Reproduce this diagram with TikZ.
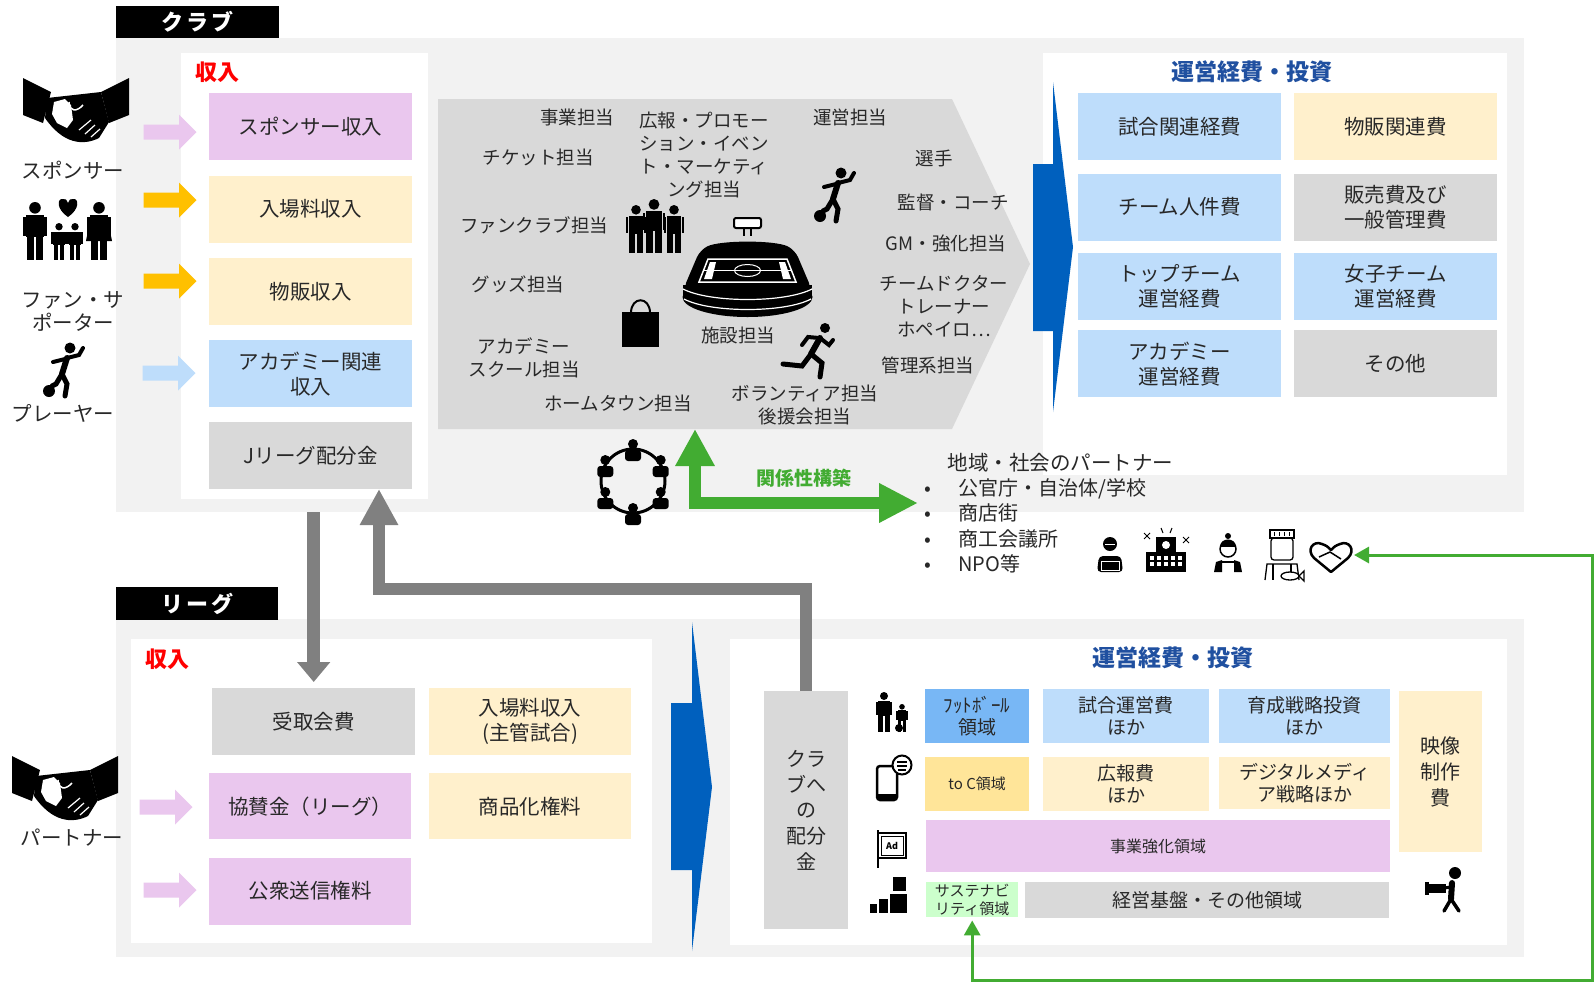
\documentclass[tikz,border=0pt]{standalone}
\usepackage{fontspec}
\setmainfont{Noto Sans CJK JP}
\usepackage{tikz}
\usetikzlibrary{positioning,arrows.meta}

\definecolor{bggrey}{RGB}{242,242,242}
\definecolor{boxgrey}{RGB}{217,217,217}
\definecolor{boxpink}{RGB}{234,199,238}
\definecolor{boxyellow}{RGB}{255,240,204}
\definecolor{boxblue}{RGB}{190,221,251}
\definecolor{deepyellow}{RGB}{255,229,153}
\definecolor{footblue}{RGB}{120,183,245}
\definecolor{sustgreen}{RGB}{204,255,204}
\definecolor{amber}{RGB}{255,192,0}
\definecolor{flowblue}{RGB}{0,96,190}
\definecolor{titleblue}{RGB}{32,80,160}
\definecolor{relgreen}{RGB}{66,172,50}
\definecolor{arrowgrey}{RGB}{128,128,128}
\definecolor{txt}{RGB}{40,40,40}

\tikzstyle{panel} = [rectangle, inner sep=0pt, anchor=north west]
\tikzstyle{tag} = [panel, fill=black, text=white, font=\fontsize{22}{26}\selectfont\bfseries]
\tikzstyle{entry} = [panel, align=center, text=txt, minimum width=203, minimum height=67, font=\fontsize{20.5}{25}\selectfont]
\tikzstyle{cell} = [panel, align=center, text=txt, font=\fontsize{19}{22}\selectfont]
\tikzstyle{role} = [align=center, text=txt, font=\fontsize{18.5}{23}\selectfont]
\tikzstyle{who} = [align=center, text=txt, font=\fontsize{20.5}{23}\selectfont]
\tikzstyle{heading} = [text=titleblue, font=\fontsize{23}{27}\selectfont\bfseries]
\tikzstyle{income} = [anchor=west, text=red, font=\fontsize{22}{26}\selectfont\bfseries]
\tikzstyle{connect} = [line width=13pt, draw=arrowgrey, -{Triangle[width=32pt,length=20pt]}]
\tikzstyle{connectup} = [line width=12pt, draw=arrowgrey, line join=miter, -{Triangle[width=36pt,length=36pt]}]
\tikzstyle{relate} = [line width=12pt, draw=relgreen, line join=miter, {Triangle[width=37pt,length=37pt]}-{Triangle[width=37pt,length=39pt]}]
\tikzstyle{feedback} = [line width=3pt, draw=relgreen, {Triangle[width=16pt,length=15pt]}-{Triangle[width=16pt,length=15pt]}]

\tikzset{
  inflow/.pic={
    \fill (-26.5,-7.5) -- (9,-7.5) -- (9,-17.5) -- (26.5,0) -- (9,17.5) -- (9,7.5) -- (-26.5,7.5) -- cycle;
  },
  person/.pic={
    \fill (0,0.1) circle (0.1);
    \fill (-0.15,0.23) rectangle (0.15,0.6);
    \fill (-0.21,0.25) rectangle (-0.16,0.58);
    \fill (0.16,0.25) rectangle (0.21,0.58);
    \fill (-0.14,0.58) rectangle (-0.02,1);
    \fill (0.02,0.58) rectangle (0.14,1);
  },
  handshake/.pic={
    \fill (0,0) -- (28,14) -- (20,45) -- (0,37) -- cycle;
    \fill (106,0) -- (78,14) -- (86,45) -- (106,37) -- cycle;
    \fill (24,20) -- (78,14) -- (86,44) -- (76,60) .. controls (60,68) and (40,66) .. (22,40) -- cycle;
    \fill[white] (31,24) -- (42,21) -- (48,27) -- (50,42) -- (44,50) -- (34,45) -- (29,36) -- cycle;
    \draw[white, line width=1.5pt] (46,24) .. controls (46,34) and (54,34) .. (60,27);
    \draw[white, line width=1.2pt] (56,52) -- (68,42) (62,56) -- (72,47) (68,59) -- (77,51);
  },
  kicker/.pic={
    \fill (27,5) circle (5.5);
    \draw[line width=6pt, line cap=round] (24,15) -- (19,31);
    \draw[line width=4pt, line cap=round] (24,15) -- (36,12) -- (40,5);
    \draw[line width=4pt, line cap=round] (22,16) -- (10,19);
    \draw[line width=5pt, line cap=round] (19,31) -- (24,41) -- (22,53);
    \draw[line width=5pt, line cap=round] (19,31) -- (13,41) -- (9,43);
    \fill (6,48) circle (6);
  },
  runner/.pic={
    \fill (45,5) circle (5);
    \draw[line width=6pt, line cap=round] (40,15) -- (31,31);
    \draw[line width=4pt, line cap=round] (40,15) -- (49,22) -- (53,17);
    \draw[line width=4pt, line cap=round] (39,15) -- (28,14) -- (22,22);
    \draw[line width=5pt, line cap=round] (31,31) -- (42,40) -- (40,54);
    \draw[line width=5pt, line cap=round] (31,31) -- (22,43) -- (3,41);
  },
  member/.pic={
    \fill (0,-5) circle (5);
    \fill[rounded corners=3pt] (-8,1) rectangle (8,12);
  }
}

\begin{document}
\begin{tikzpicture}[x=1pt,y=-1pt]
\useasboundingbox (0,0) rectangle (1595,983);

% club block
\node (clubbg) [panel, fill=bggrey, minimum width=1408, minimum height=474] at (116,38) {};
\node (clubtag) [tag, minimum width=163, minimum height=32] at (116,6) {ク\hspace{3pt}ラ\hspace{3pt}ブ};
\node (clubin) [panel, fill=white, minimum width=247, minimum height=446] at (181,53) {};
\node (clubout) [panel, fill=white, minimum width=464, minimum height=422] at (1043,53) {};
\node (clubinc) [income] at (192,72) {収入};
\node (clubttl) [heading] at (1252,72) {運営経費・投資};

\node (sponsor) [entry, fill=boxpink] at (209,93) {スポンサー収入};
\node (gate) [entry, fill=boxyellow, below=15pt of sponsor] {入場料収入};
\node (goodsin) [entry, fill=boxyellow, below=15pt of gate] {物販収入};
\node (academyin) [entry, fill=boxblue, below=15pt of goodsin] {アカデミー関連\\収入};
\node (jdist) [entry, fill=boxgrey, below=14pt of academyin] {Jリーグ配分金};

\pic[fill=boxpink] at (170,132) {inflow};
\pic[fill=amber] at (170,200) {inflow};
\pic[fill=amber] at (170,281) {inflow};
\pic[fill=boxblue] at (169,373) {inflow};

\node (shiaiex) [entry, fill=boxblue] at (1078,93) {試合関連経費};
\node (buppanex) [entry, fill=boxyellow] at (1294,93) {物販関連費};
\node (team) [entry, fill=boxblue, below=13pt of shiaiex] {チーム人件費};
\node (hanbai) [entry, fill=boxgrey, below=13pt of buppanex] {販売費及び\\一般管理費};
\node (topteam) [entry, fill=boxblue, below=12pt of team] {トップチーム\\運営経費};
\node (women) [entry, fill=boxblue, below=12pt of hanbai] {女子チーム\\運営経費};
\node (academyex) [entry, fill=boxblue, below=10pt of topteam] {アカデミー\\運営経費};
\node (other) [entry, fill=boxgrey, below=10pt of women] {その他};

% club staff
\fill[boxgrey] (438,99) -- (952,99) -- (1030,264) -- (952,429) -- (438,429) -- cycle;
\coordinate (chevbot) at (695,429);
\fill[flowblue] (1033,164) -- (1053,164) -- (1053,82) -- (1073,247) -- (1053,412) -- (1053,331) -- (1033,331) -- cycle;

\node (jigyotanto) [role] at (577,117) {事業担当};
\node (promo) [role] at (704,155) {広報・プロモー\\ション・イベン\\ト・マーケティ\\ング担当};
\node (uneitanto) [role] at (850,117) {運営担当};
\node (tickettanto) [role] at (538,157) {チケット担当};
\node (senshu) [role] at (934,158) {選手};
\node (kantoku) [role] at (953,202) {監督・コーチ};
\node (fanclub) [role] at (534,225) {ファンクラブ担当};
\node (gm) [role] at (946,244) {GM・強化担当};
\node (goodstanto) [role] at (518,284) {グッズ担当};
\node (doctor) [role] at (944,306) {チームドクター\\トレーナー\\ホペイロ…};
\node (academytanto) [role] at (524,358) {アカデミー\\スクール担当};
\node (shisetsu) [role] at (738,335) {施設担当};
\node (kanri) [role] at (928,365) {管理系担当};
\node (volunteer) [role] at (805,405) {ボランティア担当\\後援会担当};
\node (hometown) [role] at (618,403) {ホームタウン担当};

% stadium
\fill[rounded corners=8pt] (683,290) -- (700,250) .. controls (720,240) and (775,240) .. (795,250) -- (812,290) -- cycle;
\fill (683,285) rectangle (812,297);
\fill (747.5,297) ellipse (65 and 20);
\draw[white, line width=1.2pt] (683,289) .. controls (710,303) and (785,303) .. (812,289);
\draw[white, line width=1.2pt] (684,299) .. controls (710,313) and (785,313) .. (811,299);
\draw[white, line width=1.5pt] (699,282) -- (708,259) -- (787,259) -- (796,282) -- cycle;
\draw[white, line width=1pt] (703.5,270.5) -- (791.5,270.5);
\draw[white, line width=1pt] (747.5,270.5) ellipse (13 and 6);
\fill[white] (704,279) -- (710,262) -- (716,262) -- (712,279) -- cycle;
\fill[white] (791,279) -- (785,262) -- (779,262) -- (783,279) -- cycle;
\draw[line width=2pt, fill=white, rounded corners=2pt] (734,218) rectangle (761,228);
\draw[line width=1.5pt] (744,229) -- (744,236) (751,229) -- (751,236);
\pic[scale=48] at (636,205) {person};
\pic[scale=54] at (654,199) {person};
\pic[scale=48] at (674,205) {person};
\fill (622,312) rectangle (659,347);
\draw[line width=2pt] (631,313) .. controls (631,296) and (650,296) .. (650,313);
\pic at (814,168) {kicker};
\pic at (780,323) {runner};

% supporters
\pic at (23,78) {handshake};
\node (sponsorlbl) [who] at (73,170) {スポンサー};
\pic[scale=58] at (35,202) {person};
\pic[scale=37] at (59,223) {person};
\pic[scale=37] at (75,223) {person};
\pic[scale=58] at (99,202) {person};
\fill (91,215) -- (107,215) -- (112,241) -- (86,241) -- cycle;
\fill (68,217) .. controls (56,209) and (57,198) .. (63,199) .. controls (66,199) .. (68,203) .. controls (70,199) .. (73,199) .. controls (79,198) and (80,209) .. (68,217);
\node (fanlbl) [who] at (73,311) {ファン・サ\\ポーター};
\pic at (43,343) {kicker};
\node (playerlbl) [who] at (63,413) {プレーヤー};

% local partners
\draw[line width=3pt] (633,481) circle (32);
\foreach \a in {30,90,150,210,270,330}
  \pic at ([shift={(\a:32)}]633,481) {member};
\draw[relate] (chevbot) |- (918,503);
\node (relation) [text=relgreen, font=\fontsize{19}{22}\selectfont\bfseries] at (804,478) {関係性構築};
\node (partnertitle) [who, anchor=west] at (944,463) {地域・社会のパートナー};
\node (partnerlist) [anchor=north west, align=left, inner sep=0pt, text=txt, font=\fontsize{20}{25.5}\selectfont] at (924,478)
  {\makebox[34pt][l]{•}公官庁・自治体/学校\\\makebox[34pt][l]{•}商店街\\\makebox[34pt][l]{•}商工会議所\\\makebox[34pt][l]{•}NPO等};

\fill (1110,544) circle (7);
\fill[rounded corners=4pt] (1097,572) -- (1099,556) -- (1121,556) -- (1123,572) -- cycle;
\draw[white, line width=1pt] (1101,561) rectangle (1119,570);
\draw[white, line width=0.8pt] (1105,544) -- (1115,544);
\fill (1156,537) rectangle (1176,572);
\fill (1146,552) rectangle (1186,572);
\fill[white] (1166,545) circle (4);
\foreach \wx in {1150,1157,1164,1171,1178} {
  \fill[white] (\wx,556) rectangle ++(4,3.5);
  \fill[white] (\wx,562) rectangle ++(4,3.5);
}
\draw[line width=1pt] (1144,533) -- (1150,539) (1144,539) -- (1150,533) (1183,537) -- (1189,543) (1183,543) -- (1189,537) (1161,528) -- (1163,533) (1172,528) -- (1170,533);
\draw[line width=1.5pt] (1228,549) circle (8);
\fill (1220,547) .. controls (1220,537) and (1236,537) .. (1236,547) -- cycle;
\fill (1228,536) circle (3);
\fill (1214,572) -- (1216,562) -- (1222,560) -- (1222,572) -- cycle;
\fill (1242,572) -- (1240,562) -- (1234,560) -- (1234,572) -- cycle;
\draw[line width=1.3pt] (1222,562) -- (1234,562);
\draw[line width=1.3pt] (1270,530) rectangle (1294,538);
\draw[line width=1pt] (1274,532) -- (1274,536) (1279,532) -- (1279,536) (1284,532) -- (1284,536) (1289,532) -- (1289,536);
\draw[line width=1.3pt, rounded corners=3pt] (1271,538) rectangle (1293,560);
\draw[line width=1.3pt] (1265,580) -- (1267,564) -- (1297,564) -- (1299,580);
\draw[line width=1.3pt] (1273,564) -- (1273,580) (1291,564) -- (1291,572);
\draw[line width=1.3pt, fill=white] (1290,576) ellipse (9 and 4);
\draw[line width=1.3pt] (1299,576) -- (1304,571) -- (1304,581) -- cycle;
\draw[line width=2.5pt, line join=round] (1331,572) -- (1314,558) .. controls (1306,550) and (1313,540) .. (1322,544) .. controls (1327,546) .. (1331,550) .. controls (1335,546) .. (1340,544) .. controls (1349,540) and (1356,550) .. (1348,558) -- cycle;
\draw[line width=1.5pt] (1319,557) -- (1330,552) -- (1341,559);
\coordinate (hearttip) at (1354,555);

% league block
\node (leaguebg) [panel, fill=bggrey, minimum width=1408, minimum height=338] at (116,619) {};
\node (leaguetag) [tag, minimum width=162, minimum height=33] at (116,587) {リ\hspace{3pt}ー\hspace{3pt}グ};
\node (leaguein) [panel, fill=white, minimum width=521, minimum height=304] at (131,639) {};
\node (leagueout) [panel, fill=white, minimum width=777, minimum height=306] at (730,639) {};
\node (leagueinc) [income] at (142,659) {収入};
\node (leaguettl) [heading] at (1173,658) {運営経費・投資};

\node (uketori) [entry, fill=boxgrey] at (212,688) {受取会費};
\node (nyujo) [entry, fill=boxyellow, minimum width=202] at (429,688) {入場料収入\\(主管試合)};
\node (kyosan) [entry, fill=boxpink, minimum width=202, minimum height=66] at (209,773) {協賛金（リーグ）};
\node (shohin) [entry, fill=boxyellow, minimum width=202, minimum height=66] at (429,773) {商品化権料};
\node (koshu) [entry, fill=boxpink, minimum width=202, below=18pt of kyosan] {公衆送信権料};
\pic[fill=boxpink] at (166,807) {inflow};
\pic[fill=boxpink] at (170,890) {inflow};
\pic at (12,756) {handshake};
\node (partnerlbl) [who] at (72,838) {パートナー};

\fill[flowblue] (671,703) -- (692,703) -- (692,622) -- (712,787) -- (692,951) -- (692,870) -- (671,870) -- cycle;

\node (haibun) [cell, fill=boxgrey, minimum width=84, minimum height=238, font=\fontsize{20}{25.8}\selectfont] at (764,691) {クラ\\ブへ\\の\\配分\\金};
\node (football) [cell, fill=footblue, minimum width=104, minimum height=54] at (925,689) {ﾌｯﾄﾎﾞｰﾙ\\領域};
\node (shiai) [cell, fill=boxblue, minimum width=166, minimum height=54] at (1043,689) {試合運営費\\ほか};
\node (ikusei) [cell, fill=boxblue, minimum width=171, minimum height=54] at (1219,689) {育成戦略投資\\ほか};
\node (toc) [cell, fill=deepyellow, minimum width=104, minimum height=54, font=\fontsize{15}{18}\selectfont] at (925,757) {to C領域};
\node (kohohi) [cell, fill=boxyellow, minimum width=166, minimum height=54] at (1043,757) {広報費\\ほか};
\node (digital) [cell, fill=boxyellow, minimum width=171, minimum height=52] at (1219,757) {デジタルメディ\\ア戦略ほか};
\node (jigyo) [cell, fill=boxpink, minimum width=464, minimum height=52, font=\fontsize{16}{19}\selectfont] at (926,820) {事業強化領域};
\node (sustain) [cell, fill=sustgreen, minimum width=92, minimum height=35, font=\fontsize{15}{17.5}\selectfont] at (926,882) {サステナビ\\リティ領域};
\node (keiei) [cell, fill=boxgrey, minimum width=364, minimum height=36] at (1025,882) {経営基盤・その他領域};
\node (eizo) [cell, fill=boxyellow, minimum width=83, minimum height=161, font=\fontsize{20}{26}\selectfont] at (1399,691) {映像\\制作\\費};

% league icons
\pic[scale=40] at (884,692) {person};
\pic[scale=28] at (902,704) {person};
\fill (899,728) circle (4);
\draw[line width=2.5pt, rounded corners=3pt] (877,766) rectangle (897,800);
\fill (877,794) rectangle (897,800);
\draw[line width=2pt, fill=white] (902,765) circle (9.5);
\draw[line width=1.2pt] (897,762) -- (907,762) (897,766) -- (907,766) (898,770) -- (906,770);
\draw[line width=1.5pt] (878,830) -- (878,868);
\draw[line width=1.5pt] (878,833) rectangle (906,858);
\draw[line width=1pt] (881,836) rectangle (903,855);
\node (adsign) [font=\fontsize{9}{10}\selectfont\bfseries] at (892,845.5) {Ad};
\fill (893,877) rectangle (906,891);
\fill (890,894) rectangle (907,913);
\fill (879,899) rectangle (888,913);
\fill (870,904) rectangle (877,913);
\fill (1455,873) circle (6);
\draw[line width=6pt, line cap=round] (1452,883) -- (1451,899);
\draw[line width=3.5pt, line cap=round] (1451,899) -- (1444,911) (1451,899) -- (1459,911);
\draw[line width=3pt] (1450,887) -- (1440,889);
\fill (1428,884) rectangle (1446,893);
\fill (1425,882) rectangle (1429,895);

% money flows between club and league
\coordinate (bend) at (379,589);
\draw[connect] (uketori.north |- clubbg.south) -- ([yshift=6pt]uketori.north);
\draw[connectup] (haibun.north) |- (bend) -- (bend |- jdist.south);
\coordinate (fbcorner) at (1592,980);
\draw[feedback] (hearttip) -| (fbcorner) -| ([yshift=-3pt]sustain.south);

\end{tikzpicture}
\end{document}
